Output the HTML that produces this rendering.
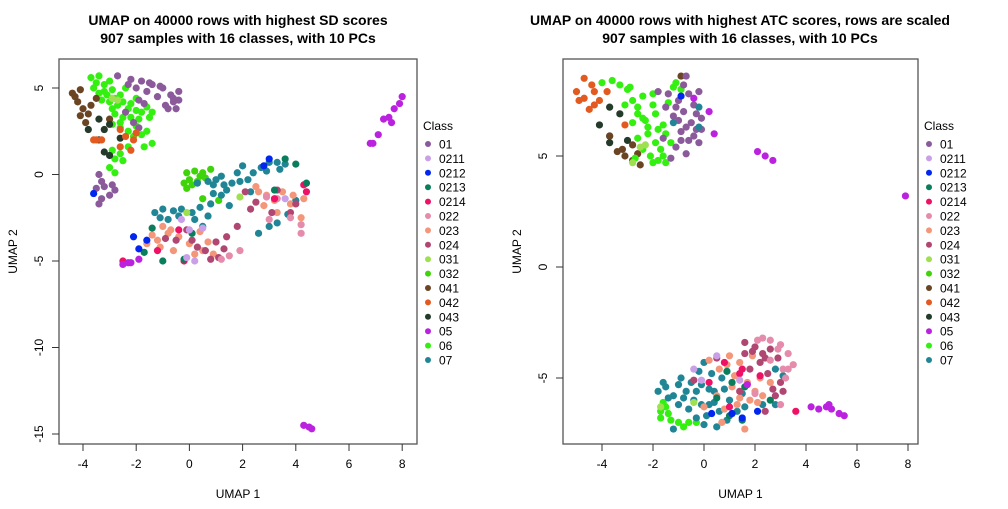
<!DOCTYPE html>
<html><head><meta charset="utf-8"><style>
body{margin:0;background:#fff;width:1008px;height:504px;overflow:hidden}
svg{font-family:"Liberation Sans",sans-serif}
</style></head><body>
<svg id="chart" width="1008" height="504">
<text x="238" y="25" text-anchor="middle" font-weight="bold" font-size="14">UMAP on 40000 rows with highest SD scores</text>
<text x="238" y="43" text-anchor="middle" font-weight="bold" font-size="14">907 samples with 16 classes, with 10 PCs</text>
<text x="740" y="25" text-anchor="middle" font-weight="bold" font-size="14">UMAP on 40000 rows with highest ATC scores, rows are scaled</text>
<text x="740" y="43" text-anchor="middle" font-weight="bold" font-size="14">907 samples with 16 classes, with 10 PCs</text>
</svg>
<script>
const classes=["01","0211","0212","0213","0214","022","023","024","031","032","041","042","043","05","06","07"];
const colors=["#8B5A9B","#C9A0E8","#0026F0","#0A7D5C","#EE1166","#E58BAB","#F4967A","#B04772","#9EE050","#3FD40A","#6B4423","#E35A20","#243A2A","#BB22E0","#33F010","#208696"];
const xTicks=[-4,-2,0,2,4,6,8];
const leftYTicks=[5,0,-5,-10,-15];
const rightYTicks=[5,0,-5];
// left plot points: [x, y, classIndex]
const leftPoints=[
[-3.7,5.6,14],[-3.4,5.7,14],[-3.0,5.4,14],[-3.6,5.0,14],[-3.2,4.8,14],[-2.9,4.9,14],[-2.6,4.6,14],[-2.4,5.0,14],[-3.3,4.3,14],[-3.0,4.2,14],[-2.7,4.0,14],[-2.3,3.8,14],[-2.0,3.7,14],[-2.5,3.3,14],[-2.2,3.3,14],[-1.9,3.2,14],[-2.8,3.5,14],[-2.6,2.7,14],[-2.9,2.9,14],[-2.3,2.5,14],[-1.6,2.5,14],[-1.7,1.6,14],[-2.3,1.6,14],[-2.6,1.2,14],[-2.8,0.9,14],[-3.0,0.4,14],[-2.8,0.1,14],[-3.2,5.2,14],[-2.0,4.4,14],[-1.8,3.6,14],[-1.5,3.3,14],[-2.1,2.2,14],
[-3.5,5.3,14],[-3.1,4.6,14],[-2.8,4.4,14],[-2.5,4.2,14],[-2.2,4.1,14],[-1.6,3.9,14],[-1.4,3.6,14],[-2.6,3.0,14],[-2.0,2.8,14],[-1.8,2.3,14],[-2.9,1.4,14],[-2.5,0.8,14],[-1.4,1.8,14],[-3.4,4.7,14],[-2.9,3.8,14],
[-2.7,5.7,0],[-2.2,5.5,0],[-1.8,5.4,0],[-1.4,5.2,0],[-1.0,5.0,0],[-0.7,4.6,0],[-0.6,4.2,0],[-0.9,4.0,0],[-0.5,3.8,0],[-1.2,4.5,0],[-1.6,4.8,0],[-2.0,5.0,0],[-1.9,4.3,0],[-2.4,3.6,0],[-1.5,5.3,0],[-0.4,4.8,0],[-1.9,2.7,0],[-3.4,0,0],[-3.3,-0.4,0],[-3.5,-0.8,0],[-3.2,-0.7,0],[-2.9,-0.6,0],[-2.8,-0.9,0],[-3.0,-1.2,0],[-3.4,-1.7,0],[-3.3,-1.4,0],[-3.6,-1.1,2],
[-0.6,4.4,0],[-0.8,3.8,0],[-0.4,4.3,0],[-1.1,5.1,0],[-2.3,5.2,0],[-1.7,4.1,0],[-2.1,3.0,0],
[-4.3,4.5,10],[-4.1,4.9,10],[-4.2,4.2,10],[-4.0,3.8,10],[-4.1,3.4,10],[-3.9,3.0,10],[-3.7,4.0,10],[-3.5,4.4,10],[-3.0,3.2,10],[-4.4,4.7,10],[-3.8,3.5,10],
[-3.8,2.6,12],[-3.4,3.2,12],[-3.2,2.6,12],[-3.4,2.0,12],[-3.0,2.9,12],[-2.6,2.1,12],[-3.2,1.3,12],[-3.0,1.1,12],
[-3.5,2.0,11],[-3.3,2.0,11],[-2.6,2.6,11],[-2.4,2.2,11],[-2.1,2.0,11],[-2.6,1.6,11],[-2.2,1.4,11],[-2.0,2.4,11],[-3.6,2.0,11],
[-2.9,4.4,8],[-2.7,4.3,8],
[-0.1,0.1,9],[0.2,0.2,9],[0.5,0.1,9],[0.0,-0.3,9],[0.3,-0.4,9],[0.6,-0.2,9],[0.1,-0.6,9],[0.8,0.3,9],[-0.1,-0.8,9],[0.5,-1.4,9],[1.1,-1.5,9],[0.4,-0.1,9],[-0.2,-0.5,9],
[0.3,-0.5,15],[0.7,-0.4,15],[1.0,-0.3,15],[1.3,-0.6,15],[1.6,-0.5,15],[1.9,-0.4,15],[2.2,-0.3,15],[2.4,0.1,15],[2.7,0.4,15],[3.0,0.7,15],[3.3,0.7,15],[3.6,0.6,15],[2.0,0.5,15],[1.2,-0.1,15],[0.9,-1.1,15],[1.5,-1.8,15],[2.3,-1.0,15],[-1.3,-2.2,15],[-1.0,-2.0,15],[-0.6,-2.1,15],[-0.3,-2.0,15],[0.1,-2.2,15],[0.4,-1.9,15],[0.7,-2.4,15],[-0.8,-2.6,15],[0.5,-3.0,15],[0.8,-1.7,15],[2.6,-3.4,15],[3.0,-3.0,15],[3.3,-2.8,15],[3.7,-2.3,15],[4.0,-1.5,15],
[0.9,-0.6,15],[1.4,-0.9,15],[1.8,0.1,15],[2.9,0.2,15],[-1.1,-2.5,15],[0.2,-2.6,15],[-0.4,-2.4,15],[1.2,-1.2,15],[3.4,0.3,15],
[2.6,-1.0,6],[2.9,-1.2,6],[3.2,-1.5,6],[3.5,-1.0,6],[3.8,-1.7,6],[4.2,-2.5,6],[4.3,-1.4,6],[3.3,-2.2,6],[2.8,-1.8,6],[-1.4,-3.5,6],[-1.0,-3.0,6],[-0.7,-3.2,6],[-0.4,-3.6,6],[0,-4.0,6],[0.4,-3.3,6],[0.7,-3.9,6],[-1.1,-4.2,6],[-0.6,-4.4,6],[0.9,-4.6,6],[0.2,-4.6,6],[-1.6,-4.0,6],
[-1.2,-3.8,6],[-0.8,-3.4,6],[0.5,-4.4,6],[3.9,-1.2,6],[2.5,-0.7,6],
[2.1,-1.0,7],[2.5,-1.6,7],[3.3,-0.9,7],[3.8,-2.2,7],[4.0,-1.7,7],[2.3,-2.0,7],[3.1,-2.2,7],[-0.5,-3.8,7],[-0.1,-3.2,7],[0.3,-4.2,7],[0.6,-4.4,7],[1.0,-3.9,7],[1.4,-3.6,7],[1.1,-4.8,7],[0.8,-4.9,7],[-0.9,-3.7,7],[1.8,-3.0,7],[1.3,-4.3,7],[0.1,-3.8,7],
[4.2,-2.9,5],[4.2,-3.4,5],[3.8,-2.5,5],[3.3,-1.4,5],[1.9,-4.4,5],[1.5,-4.7,5],[1.2,-4.9,5],[2.9,-1.3,5],[3.0,-2.6,5],
[-2.5,-5.0,4],[-1.2,-4.4,4],[-0.4,-3.2,4],[3.2,-1.4,4],[4.4,-1.0,4],[4.3,-0.6,4],[-0.2,-5.0,4],
[3.6,0.9,3],[4.0,0.6,3],[4.4,-0.5,3],[-1.7,-4.5,3],[-1.4,-3.1,3],[-1.0,-5.0,3],[0.1,-3.4,3],[3.2,-0.9,3],[-0.2,-4.9,3],
[2.8,0.5,2],[3.0,0.9,2],[-2.1,-3.6,2],[-1.9,-4.3,2],[-1.6,-3.8,2],
[-0.3,-2.6,1],[0.0,-3.2,1],[0.5,-3.1,1],[-0.1,-4.8,1],[0.2,-5.0,1],[3.6,-1.4,1],
[-0.1,-2.2,8],[1.9,-1.3,8],
[-2.5,-5.2,13],[-2.2,-5.1,13],[-1.9,-4.9,13],[-2.3,-5.1,13],[8.0,4.5,13],[7.9,4.1,13],[7.7,3.8,13],[7.5,3.3,13],[7.6,3.0,13],[7.3,3.2,13],[7.1,2.3,13],[6.9,1.8,13],[6.8,1.8,13],[4.3,-14.5,13],[4.5,-14.6,13],[4.6,-14.7,13]
];
const rightPoints=[
[-4.7,8.5,11],[-4.4,8.2,11],[-5.0,7.9,11],[-4.7,7.6,11],[-4.3,7.9,11],[-4.1,7.5,11],[-4.5,7.1,11],[-3.8,7.9,11],[-3.1,6.4,11],[-4.9,7.5,11],[-4.3,7.3,11],
[-3.7,7.2,12],[-4.1,6.4,12],[-3.7,5.9,12],[-3.3,6.9,12],[-3.0,5.7,12],[-3.7,5.6,12],
[-3.7,5.9,10],[-3.4,5.2,10],[-3.1,5.0,10],[-2.8,4.8,10],[-2.6,5.1,10],[-2.5,4.6,10],[-2.8,5.5,10],[-0.9,8.6,10],[-3.2,5.3,10],
[-4.0,8.3,14],[-3.6,8.4,14],[-3.3,8.2,14],[-2.9,8.1,14],[-2.8,7.5,14],[-2.4,7.7,14],[-2.0,7.3,14],[-3.1,7.3,14],[-2.6,6.9,14],[-2.3,6.6,14],[-1.9,6.9,14],[-2.8,6.5,14],[-1.8,6.2,14],[-2.2,6.0,14],[-2.6,5.8,14],[-1.7,5.3,14],[-2.1,5.0,14],[-2.4,5.3,14],[-1.8,4.8,14],[-1.5,4.7,14],[-2.7,4.9,14],[-1.4,7.4,14],[-1.1,8.3,14],[-0.9,8.0,14],[-1.6,6.4,14],[-1.3,5.6,14],
[-3.0,8.0,14],[-2.6,7.2,14],[-2.2,6.3,14],[-1.9,5.6,14],[-1.6,5.0,14],[-2.0,4.7,14],[-2.4,6.7,14],[-1.5,6.0,14],[-1.2,8.1,14],[-2.0,7.8,14],
[-1.8,7.9,0],[-1.4,7.8,0],[-1.0,7.5,0],[-0.6,7.8,0],[-0.4,7.3,0],[-0.8,7.0,0],[-1.2,6.8,0],[-0.5,6.5,0],[-0.1,6.7,0],[-0.3,6.2,0],[-0.9,6.1,0],[-0.6,5.7,0],[-0.2,5.6,0],[-1.1,5.4,0],[-0.7,5.1,0],[-1.3,4.9,0],[-0.8,8.2,0],[-1.5,7.2,0],[-1.6,5.8,0],[-0.2,7.9,0],[-0.7,8.6,0],
[-0.3,6.9,0],[-0.7,6.3,0],[-1.0,6.6,0],[-0.4,5.9,0],[-0.9,5.7,0],[-0.1,6.2,0],[-1.1,7.2,0],
[-0.2,6.3,15],[-0.2,7.2,15],[-1.2,6.5,15],[-0.9,7.7,2],
[-0.4,7.6,13],[0.2,7.0,13],[0.4,6.0,13],[2.1,5.2,13],[2.4,5.0,13],[2.7,4.8,13],[7.9,3.2,13],
[-2.8,4.7,8],[-2.5,5.4,8],[-2.3,5.5,8],
[-1.6,-6.1,14],[-1.7,-6.5,14],[-1.4,-6.6,14],[-1.0,-7.0,14],[-0.8,-7.2,14],[-0.6,-7.0,14],[-0.3,-7.0,14],[-1.3,-6.9,14],[-1.7,-6.8,14],[-1.5,-6.3,14],
[-1.8,-5.6,15],[-1.5,-5.4,15],[-1.2,-5.8,15],[-1.0,-5.3,15],[-0.8,-5.9,15],[-0.5,-5.2,15],[-0.3,-5.6,15],[-0.1,-6.2,15],[0.2,-5.5,15],[-0.6,-6.4,15],[-0.3,-6.8,15],[0.1,-6.7,15],[0.4,-6.1,15],[0.6,-6.5,15],[0.7,-5.0,15],[0.3,-4.8,15],[-0.2,-4.7,15],[1.0,-6.0,15],[1.3,-6.5,15],[1.5,-5.7,15],[0.9,-6.9,15],[-1.2,-7.3,15],[2.3,-6.2,15],[3.1,-4.9,15],[2.8,-4.6,15],[0.0,-4.3,15],[-0.9,-5.0,15],[1.6,-6.3,15],[0.5,-7.2,15],[2.8,-6.2,15],
[-1.4,-5.9,15],[-0.7,-5.6,15],[-0.1,-5.3,15],[0.4,-5.6,15],[-0.4,-6.0,15],[0.2,-6.2,15],[0.8,-5.5,15],[-1.0,-6.2,15],[-1.6,-5.2,15],[0.0,-7.1,15],
[0.2,-4.2,6],[0.6,-4.6,6],[1.0,-4.0,6],[1.4,-4.3,6],[1.2,-4.9,6],[1.7,-5.2,6],[2.0,-5.6,6],[1.8,-6.0,6],[0.5,-5.8,6],[0.8,-6.4,6],[1.3,-6.2,6],[2.6,-5.2,6],[2.2,-5.0,6],[0.0,-6.3,6],[0.7,-7.0,6],[1.6,-7.3,6],[2.1,-6.1,6],[1.1,-5.4,6],
[0.9,-4.4,6],[1.9,-4.0,6],[2.3,-5.8,6],[1.4,-5.9,6],
[1.6,-3.9,7],[2.0,-3.6,7],[2.3,-3.9,7],[2.6,-3.7,7],[2.2,-4.3,7],[1.8,-4.6,7],[2.5,-4.8,7],[3.0,-5.2,7],[3.1,-5.6,7],[2.8,-5.8,7],[2.4,-6.5,7],[1.4,-5.6,7],[0.5,-4.1,7],[1.6,-3.4,7],[-0.4,-5.1,7],[2.9,-4.1,7],
[1.9,-3.8,7],[2.4,-4.1,7],[2.7,-5.5,7],
[2.1,-3.3,5],[2.6,-3.3,5],[3.0,-3.5,5],[3.3,-3.9,5],[3.5,-4.4,5],[3.1,-4.6,5],[3.2,-5.0,5],[2.6,-4.2,5],[2.0,-5.7,5],[2.9,-3.7,5],[3.0,-6.2,5],[2.3,-3.2,5],[3.3,-4.6,5],
[0.8,-4.3,4],[1.5,-4.6,4],[1.4,-4.8,4],[2.2,-4.9,4],[0.2,-5.2,4],[1.0,-6.3,4],[3.6,-6.5,4],
[0.9,-4.7,3],[0.5,-5.9,3],[1.0,-6.7,3],[1.6,-5.4,3],[2.6,-6.0,3],[1.5,-6.9,3],[1.1,-5.2,3],
[0.3,-6.6,2],[1.1,-6.6,2],[1.5,-6.8,2],[2.1,-6.5,2],
[-0.4,-4.6,1],[-0.1,-5.1,1],[0.5,-4.0,1],[1.4,-5.1,1],
[-0.4,-6.1,8],[-1.7,-6.3,8],
[4.2,-6.3,13],[4.5,-6.4,13],[4.8,-6.3,13],[5.0,-6.4,13],[5.3,-6.6,13],[5.5,-6.7,13],[4.9,-6.2,13],[1.7,-5.3,13]
];
const NS="http://www.w3.org/2000/svg";
const svg=document.getElementById('chart');
function mk(tag,attrs,parent){const e=document.createElementNS(NS,tag);for(const k in attrs)e.setAttribute(k,attrs[k]);(parent||svg).appendChild(e);return e;}
function panel(p){
  const g=mk('g',{});
  
  
  const sx=v=>p.x0+(v-p.xmin)/(p.xmax-p.xmin)*(p.x1-p.x0);
  const sy=v=>p.y1-(v-p.ymin)/(p.ymax-p.ymin)*(p.y1-p.y0);
  for(const pt of p.points){
    const c=mk('circle',{cx:sx(pt[0]),cy:sy(pt[1]),r:3.6,fill:colors[pt[2]]},g);
    
    
  }
  const box=mk('rect',{x:p.x0,y:p.y0,width:p.x1-p.x0,height:p.y1-p.y0,fill:'none',stroke:'#555','stroke-width':1.3},g);
  
  
  for(const t of xTicks){
    const X=sx(t);
    mk('line',{x1:X,x2:X,y1:p.y1,y2:p.y1+7,stroke:'#333'},g);
    const tx=mk('text',{x:X,y:p.y1+24,'text-anchor':'middle','font-size':12},g);
    tx.textContent=t;
    
    
  }
  for(const t of p.yTicks){
    const Y=sy(t);
    mk('line',{x1:p.x0-7,x2:p.x0,y1:Y,y2:Y,stroke:'#333'},g);
    const tx=mk('text',{x:p.x0-16,y:Y,'text-anchor':'middle','font-size':12,transform:`rotate(-90 ${p.x0-16} ${Y})`},g);
    tx.textContent=t;
    
    
  }
  const xl=mk('text',{x:(p.x0+p.x1)/2,y:498,'text-anchor':'middle','font-size':12},g);
  xl.textContent='UMAP 1';
  
  
  const yx=p.x0-42,yy=(p.y0+p.y1)/2;
  const yl=mk('text',{x:yx,y:yy,'text-anchor':'middle','font-size':12,transform:`rotate(-90 ${yx} ${yy})`},g);
  yl.textContent='UMAP 2';
  
  
  const lg=mk('g',{},g);
  
  
  const lt=mk('text',{x:p.x1+6,y:130,'font-size':12},lg);
  lt.textContent='Class';
  
  
  classes.forEach((c,i)=>{
    const Y=144+i*14.4;
    const d=mk('circle',{cx:p.x1+11,cy:Y,r:3,fill:colors[i]},lg);
    
    
    const t=mk('text',{x:p.x1+22,y:Y+4.5,'font-size':12},lg);
    t.textContent=c;
    
    
  });
}
panel({name:'left-umap-panel',x0:59,x1:417,y0:59,y1:444,xmin:-4-(83-59)/26.6,xmax:-4+(417-83)/26.6,ymin:-15-(444-434)/17.3,ymax:5+(88-59)/17.3,yTicks:leftYTicks,points:leftPoints});
panel({name:'right-umap-panel',x0:563,x1:918,y0:59,y1:444,xmin:-4-(602-563)/25.5,xmax:-4+(918-602)/25.5,ymin:-5-(444-378)/22.2,ymax:5+(156-59)/22.2,yTicks:rightYTicks,points:rightPoints});
</script>
</body></html>
